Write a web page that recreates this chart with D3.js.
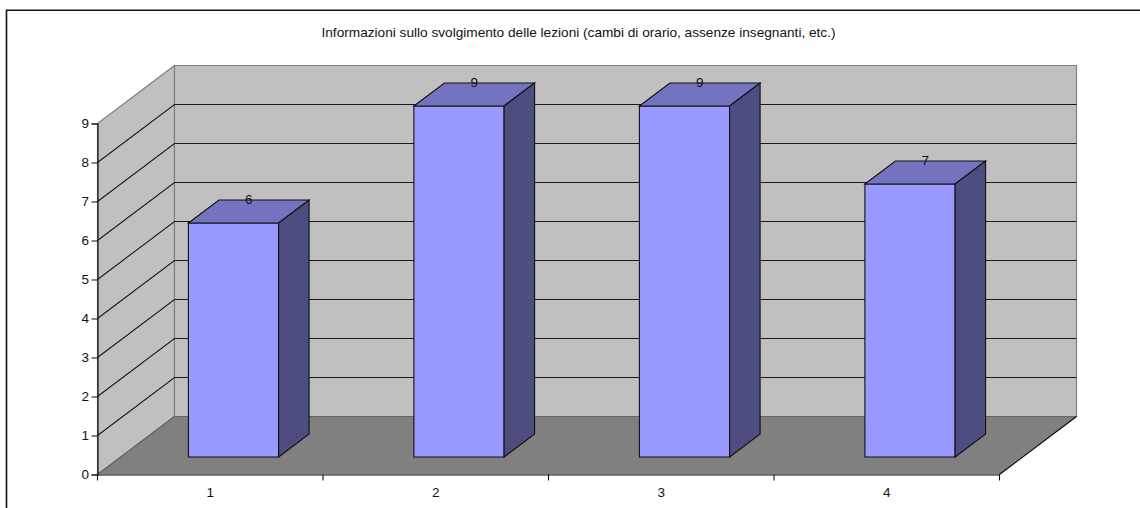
<!DOCTYPE html>
<html><head><meta charset="utf-8">
<script src="https://cdnjs.cloudflare.com/ajax/libs/d3/7.8.5/d3.min.js"></script>
<style>html,body{margin:0;padding:0;background:#fff}svg{display:block}text{font-family:"Liberation Sans",Arial,sans-serif;fill:#111}</style>
</head><body><svg id="c" width="1140" height="508"></svg>
<script>
const categories = ["1","2","3","4"];
const values = [6,9,9,7];
const yTicks = [0,1,2,3,4,5,6,7,8,9];
const titleText = "Informazioni sullo svolgimento delle lezioni (cambi di orario, assenze insegnanti, etc.)";

const svg = d3.select("#c");
const x = d3.scaleBand().domain(categories).range([97.5,999.5]);
const y = d3.scaleLinear().domain([0,9]).range([474.5,123.5]);
const depthX = 77, depthY = -58;
const barFrac = 0.4, zFront = 0.302, zBack = 0.698;
// project (front x, value, depth fraction) to the page
const P = (px,v,z)=>[px+z*depthX, y(v)+z*depthY];
const poly = pts => pts.map(p=>p.map(n=>n.toFixed(2)).join(",")).join(" ");
const x0=x.range()[0], x1=x.range()[1], yMax=y.domain()[1];

// frame (left and top edges only are visible)
svg.append("path").attr("d","M6.5,508V10.2H1140").attr("fill","none").attr("stroke","#111").attr("stroke-width",1.6);

// walls and floor
svg.append("polygon").attr("points",poly([P(x0,0,0),P(x0,yMax,0),P(x0,yMax,1),P(x0,0,1)])).attr("fill","#C0C0C0").attr("stroke","#808080").attr("stroke-width",1.2);
svg.append("polygon").attr("points",poly([P(x0,0,1),P(x0,yMax,1),P(x1,yMax,1),P(x1,0,1)])).attr("fill","#C0C0C0").attr("stroke","#808080").attr("stroke-width",1.2);
svg.append("polygon").attr("points",poly([P(x0,0,0),P(x0,0,1),P(x1,0,1),P(x1,0,0)])).attr("fill","#808080").attr("stroke","none");
svg.append("line").attr("x1",P(x0,0,0)[0]).attr("y1",y(0)).attr("x2",P(x0,0,1)[0]).attr("y2",P(x0,0,1)[1]).attr("stroke","#666").attr("stroke-width",1.2);
svg.append("line").attr("x1",P(x0,0,1)[0]).attr("y1",P(x0,0,1)[1]).attr("x2",P(x1,0,1)[0]).attr("y2",P(x1,0,1)[1]).attr("stroke","#666").attr("stroke-width",1.2);
svg.append("line").attr("x1",P(x1,0,0)[0]).attr("y1",y(0)).attr("x2",P(x1,0,1)[0]).attr("y2",P(x1,0,1)[1]).attr("stroke","#000").attr("stroke-width",1.1);

// gridlines
const gridV = yTicks.filter(v=>v>0 && v<yMax);
const grid = svg.append("g").attr("fill","none").attr("stroke","#1a1a1a").attr("stroke-width",1.1);
gridV.forEach(v=>{
  grid.append("polyline").attr("points",poly([P(x0,v,0),P(x0,v,1),P(x1,v,1)]));
});

// axes
const yAxis = d3.axisLeft(y).tickValues(yTicks).tickSize(6).tickPadding(2.5).tickFormat(d3.format("d"));
const gy = svg.append("g").attr("transform",`translate(${x0},0)`).call(yAxis);
const xEdges = categories.map(c=>x(c)).concat([x1]);
const xAxis = d3.axisBottom(x).tickSize(0).tickPadding(12.5);
const gx = svg.append("g").attr("transform",`translate(0,${y(0)})`).call(xAxis);
gx.selectAll(".tick-edge").data(xEdges).enter().append("line").attr("class","tick-edge")
  .attr("x1",d=>d).attr("x2",d=>d).attr("y1",0).attr("y2",6).attr("stroke","#111").attr("stroke-width",1.1);
[gy,gx].forEach(g=>{g.selectAll("path.domain").attr("stroke","#111").attr("stroke-width",1.2);g.selectAll(".tick line").attr("stroke","#222").attr("stroke-width",1.1);
  g.selectAll("text").attr("font-size",13.5).attr("font-family","'Liberation Sans',Arial,sans-serif").attr("fill","#222");});

// bars
const bars = svg.append("g").selectAll("g").data(categories.map((c,i)=>({c,v:values[i]}))).enter().append("g");
const bl = d=>x(d.c)+x.bandwidth()*(1-barFrac)/2, br = d=>bl(d)+x.bandwidth()*barFrac;
bars.selectAll("polygon").data(d=>[d]);
bars.append("polygon").attr("points",d=>poly([P(bl(d),0,zFront),P(br(d),0,zFront),P(br(d),d.v,zFront),P(bl(d),d.v,zFront)])).attr("fill","#9999FF").attr("stroke","#111").attr("stroke-width",1.1);
bars.append("polygon").attr("points",d=>poly([P(bl(d),d.v,zFront),P(br(d),d.v,zFront),P(br(d),d.v,zBack),P(bl(d),d.v,zBack)])).attr("fill","#7373BF").attr("stroke","#111").attr("stroke-width",1.1);
bars.append("polygon").attr("points",d=>poly([P(br(d),0,zFront),P(br(d),0,zBack),P(br(d),d.v,zBack),P(br(d),d.v,zFront)])).attr("fill","#4D4D80").attr("stroke","#111").attr("stroke-width",1.1);
bars.append("text").text(d=>d.v).attr("font-size",13.5).attr("text-anchor","middle").attr("fill","#222")
  .attr("x",d=>P((bl(d)+br(d))/2,d.v,0.5)[0]).attr("y",d=>P((bl(d)+br(d))/2,d.v,0.5)[1]-8);

// title
svg.append("text").text(titleText).attr("x",578.5).attr("y",36.5).attr("text-anchor","middle").attr("font-size",13.65).attr("fill","#222");
</script></body></html>
